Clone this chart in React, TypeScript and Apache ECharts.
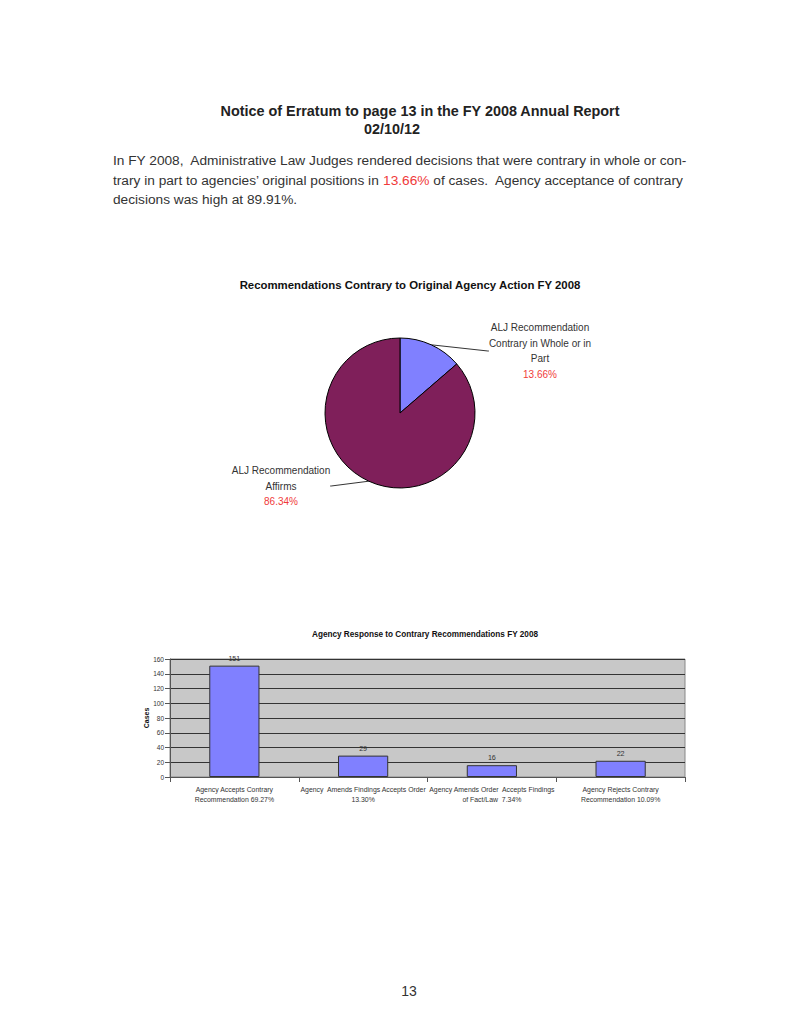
import React, { useEffect, useRef } from "react";
import * as echarts from "echarts";

const pieNames = ["ALJ Recommendation Contrary in Whole or in Part", "ALJ Recommendation Affirms"];
const pieLabelLines = [
  ["ALJ Recommendation", "Contrary in Whole or in", "Part"],
  ["ALJ Recommendation", "Affirms"],
];
const pieValues = [13.66, 86.34];
const pieColors = ["#8080FF", "#7F1F5A"];

const barCategories = [
  "Agency Accepts Contrary\nRecommendation 69.27%",
  "Agency  Amends Findings Accepts Order\n13.30%",
  "Agency Amends Order  Accepts Findings\nof Fact/Law  7.34%",
  "Agency Rejects Contrary\nRecommendation 10.09%",
];
const barValues = [151, 29, 16, 22];
const yTicks = [0, 20, 40, 60, 80, 100, 120, 140, 160];

const FONT = "Liberation Sans, Arial, sans-serif";

export default function App() {
  const ref = useRef<HTMLDivElement>(null);
  useEffect(() => {
    if (!ref.current) return;
    const chart = echarts.init(ref.current, undefined, { renderer: "svg" });
    const option: any = {
      animation: false,
      backgroundColor: "#ffffff",
      textStyle: { fontFamily: FONT },
      graphic: [
        {
          type: "text",
          x: 420,
          y: 111,
          style: {
            text: "Notice of Erratum to page 13 in the FY 2008 Annual Report",
            font: "bold 14.4px " + FONT,
            fill: "#222",
            align: "center",
            verticalAlign: "middle",
          },
        },
        {
          type: "text",
          x: 392,
          y: 129,
          style: {
            text: "02/10/12",
            font: "bold 14.4px " + FONT,
            fill: "#222",
            align: "center",
            verticalAlign: "middle",
          },
        },
        {
          type: "text",
          x: 113,
          y: 160,
          style: {
            text: "In FY 2008,  Administrative Law Judges rendered decisions that were contrary in whole or con-",
            font: "13.7px " + FONT,
            fill: "#333",
            verticalAlign: "middle",
          },
        },
        {
          type: "text",
          x: 113,
          y: 180,
          style: {
            text: "trary in part to agencies\u2019 original positions in {r|13.66%} of cases.  Agency acceptance of contrary",
            font: "13.7px " + FONT,
            fill: "#333",
            verticalAlign: "middle",
            rich: { r: { fill: "#F03A3A", font: "13.7px " + FONT } },
          },
        },
        {
          type: "text",
          x: 113,
          y: 199,
          style: {
            text: "decisions was high at 89.91%.",
            font: "13.7px " + FONT,
            fill: "#333",
            verticalAlign: "middle",
          },
        },
        {
          type: "text",
          x: 410,
          y: 285,
          style: {
            text: "Recommendations Contrary to Original Agency Action FY 2008",
            font: "bold 11.4px " + FONT,
            fill: "#111",
            align: "center",
            verticalAlign: "middle",
          },
        },
        {
          type: "text",
          x: 425,
          y: 634,
          style: {
            text: "Agency Response to Contrary Recommendations FY 2008",
            font: "bold 8.2px " + FONT,
            fill: "#111",
            align: "center",
            verticalAlign: "middle",
          },
        },
        {
          type: "text",
          x: 146,
          y: 718,
          rotation: Math.PI / 2,
          style: {
            text: "Cases",
            font: "bold 7px " + FONT,
            fill: "#111",
            align: "center",
            verticalAlign: "middle",
          },
        },
        {
          type: "text",
          x: 409,
          y: 991,
          style: {
            text: "13",
            font: "14px " + FONT,
            fill: "#333",
            align: "center",
            verticalAlign: "middle",
          },
        },
      ],
      grid: { left: 170, right: 115, top: 659, bottom: 258, show: true, backgroundColor: "#C8C8C8", borderColor: "#888", borderWidth: 1 },
      xAxis: {
        type: "category",
        data: barCategories,
        axisLine: { lineStyle: { color: "#555" } },
        axisTick: { show: true, alignWithLabel: false, lineStyle: { color: "#555" } },
        axisLabel: { fontSize: 6.9, color: "#333", lineHeight: 10, margin: 7, interval: 0, fontFamily: FONT },
      },
      yAxis: {
        type: "value",
        min: yTicks[0],
        max: yTicks[yTicks.length - 1],
        interval: 20,
        axisLine: { show: true, lineStyle: { color: "#555" } },
        axisTick: { show: true, lineStyle: { color: "#555" } },
        axisLabel: { fontSize: 6.5, color: "#333", margin: 6, fontFamily: FONT },
        splitLine: { lineStyle: { color: "#333", width: 1 } },
      },
      series: [
        {
          type: "bar",
          data: barValues,
          barWidth: "39%",
          itemStyle: { color: "#8080FF", borderColor: "#333", borderWidth: 1 },
          label: { show: true, position: "top", distance: 4, fontSize: 7.2, color: "#333", fontFamily: FONT },
        },
        {
          type: "pie",
          center: [400, 413],
          radius: 75,
          startAngle: 90,
          clockwise: true,
          data: pieNames.map((n, i) => ({ name: n, value: pieValues[i], itemStyle: { color: pieColors[i] } })),
          itemStyle: { borderColor: "#000", borderWidth: 1 },
          label: {
            show: true,
            formatter: (p: any) => {
              const lines = pieLabelLines[p.dataIndex].map((l) => "{n|" + l + "}");
              return lines.join("\n") + "\n{p|" + pieValues[p.dataIndex].toFixed(2) + "%}";
            },
            align: "center",
            rich: {
              n: { fontSize: 10, color: "#333", lineHeight: 15.5, fontFamily: FONT, align: "center" },
              p: { fontSize: 10, color: "#F03A3A", lineHeight: 15.5, fontFamily: FONT, align: "center" },
            },
          },
          labelLine: { show: true, length: 1, length2: 1, lineStyle: { color: "#000", width: 0.8 } },
          labelLayout: (params: any) => {
            if (params.dataIndex === 0) {
              return { x: 540, y: 351, align: "center", verticalAlign: "middle" };
            }
            return { x: 281, y: 486, align: "center", verticalAlign: "middle" };
          },
          emphasis: { disabled: true },
        },
      ],
    };
    chart.setOption(option);
    return () => chart.dispose();
  }, []);
  return <div ref={ref} style={{ position: "absolute", left: 0, top: 0, width: 800, height: 1035 }} />;
}
